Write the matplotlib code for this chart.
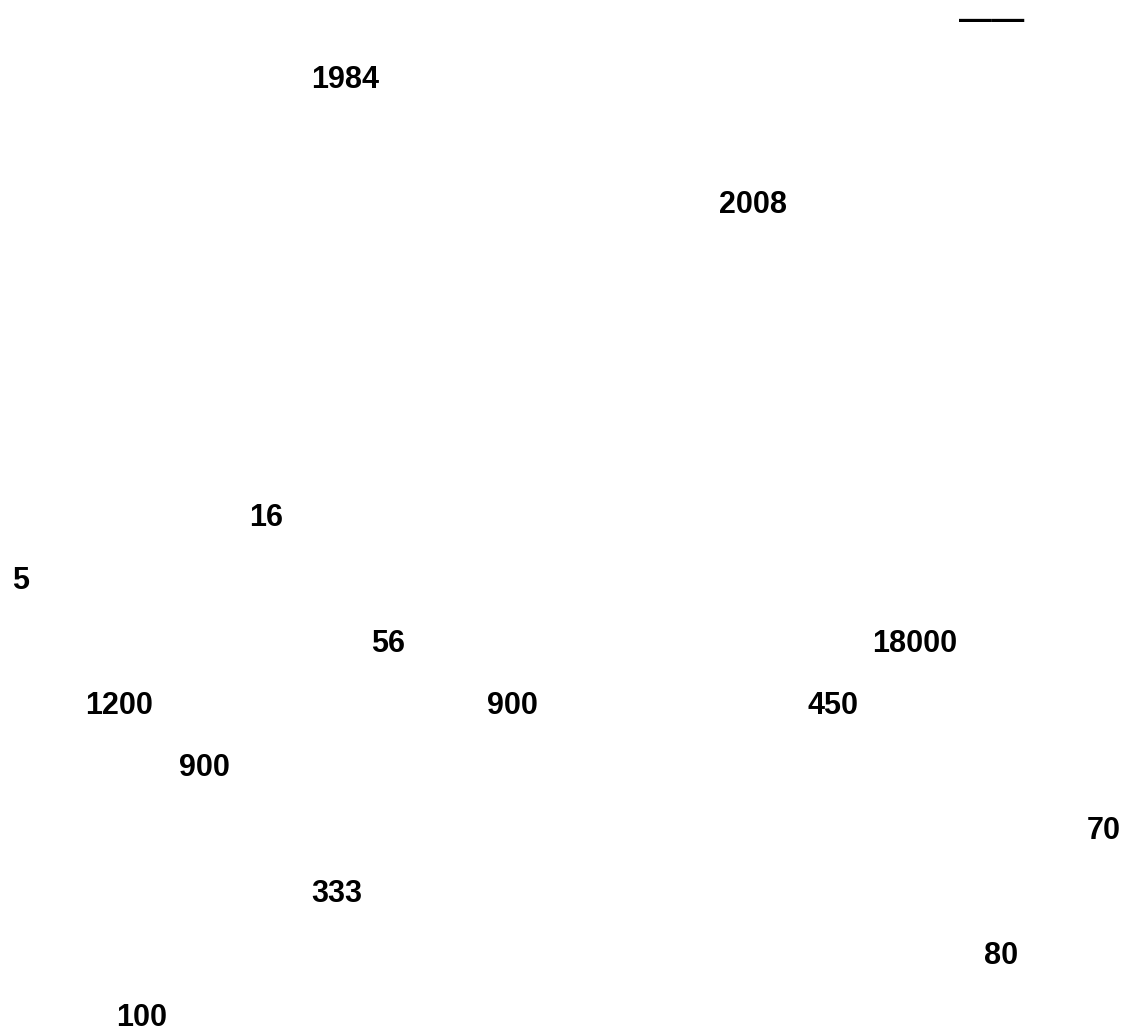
import matplotlib
matplotlib.use("Agg")
import matplotlib.pyplot as plt

# Visible text fragments (the rest of the page text was not rendered)
labels = ["——", "1984", "2008", "16", "5", "56", "18000", "1200", "900",
          "450", "900", "70", "333", "80", "100"]
# layout: left edge (px) and baseline (px from top)
x_left = [959, 311, 719, 249, 12, 371, 872, 85, 487, 807, 179, 1087, 311, 984, 116]
baseline = [29.5, 88, 213, 526.5, 589, 651.5, 651.5, 714, 714, 714, 776.5, 839, 901.5, 964, 1026.5]
sizes = [23.5] + [22] * 14

W, H = 1131, 1032
fig = plt.figure(figsize=(W / 100, H / 100), dpi=100)
ax = fig.add_axes([0, 0, 1, 1])
ax.set_xlim(0, W)
ax.set_ylim(H, 0)
ax.axis("off")

for lab, x, y, s in zip(labels, x_left, baseline, sizes):
    ax.text(x, y, lab, ha="left", va="baseline", fontsize=s,
            fontweight="bold", family=["Liberation Sans", "DejaVu Sans"],
            color="black")

fig.savefig("out.png", dpi=100, facecolor="white")
